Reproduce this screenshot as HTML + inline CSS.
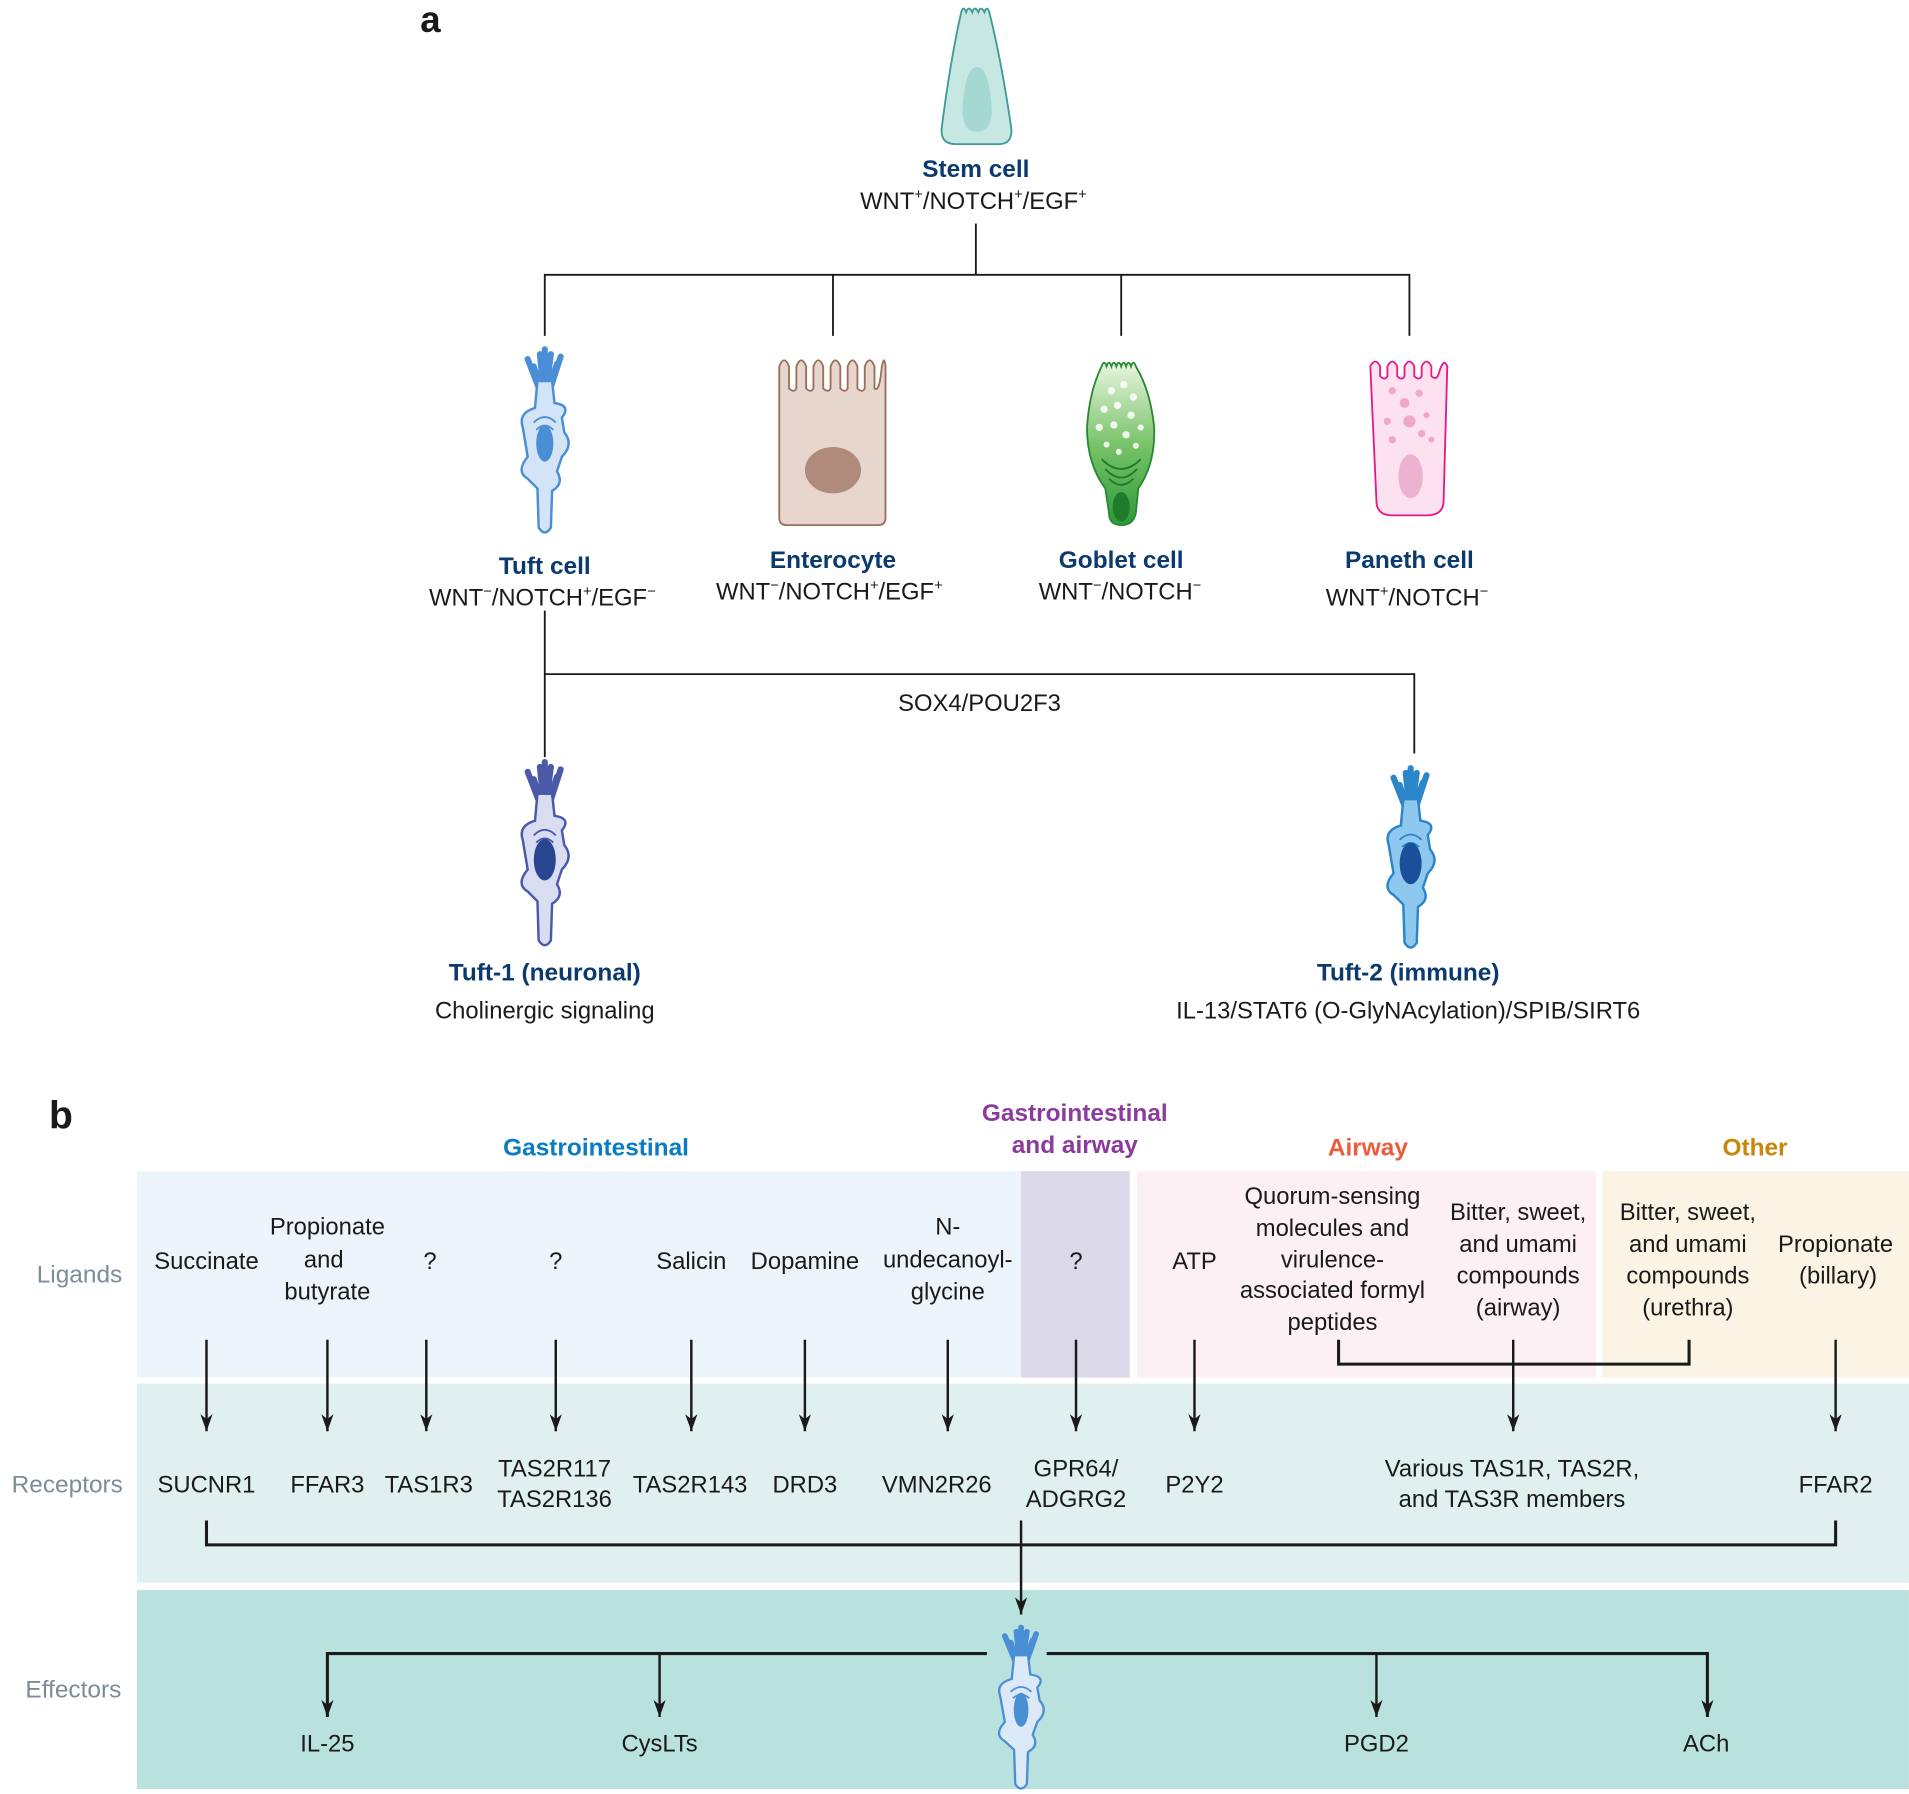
<!DOCTYPE html>
<html><head><meta charset="utf-8"><style>
html,body{margin:0;padding:0;background:#fff}
svg{display:block}
text{font-family:"Liberation Sans",sans-serif;font-size:19.5px;fill:#1a1a1a}
.t{font-weight:bold;fill:#0b3a6e;font-size:20px}
.h{font-weight:bold;font-size:20px}
.row{fill:#7d8c9b;font-size:20px}
</style></head><body>
<svg width="1909" height="1794" viewBox="0 0 1563 1469" xmlns="http://www.w3.org/2000/svg">
<defs>
<marker id="ar" viewBox="0 0 14 10" refX="14" refY="5" markerWidth="14" markerHeight="10" markerUnits="userSpaceOnUse" orient="auto"><path d="M0,0 L14,5 L0,10 L4,5 Z" fill="#1a1a1a"/></marker>
<g id="tuft">
<path d="M-3,38 L-9,18 M-1,38 L-4,8 M0,38 L0,4 M1,38 L5,8 M3,38 L10,16 M-4,38 L-14,12 M4,38 L13,10" stroke="currentColor" stroke-width="5" stroke-linecap="round" fill="none"/>
<path d="M-6,30 L-8,52 Q-22,56 -18,68 L-14,92 Q-24,104 -14,110 L-6,118 L-5,150 Q0,158 5,150 L6,120 Q16,114 10,104 L14,92 Q24,82 16,72 L14,60 Q22,50 8,48 L6,30 Z" fill="inherit" stroke="currentColor" stroke-width="2"/>
<path d="M-9,64 Q0,55 9,64 M-7,70 Q0,63 7,70" stroke="currentColor" stroke-width="1.5" fill="none"/>
</g>
</defs>

<text x="344" y="26" style="font-weight:bold;font-size:30px">a</text>

<path d="M787,10 Q789,4 791,10 Q793,4 796,10 Q798,4 801,10 Q803,4 806,10 Q808,4 810,10 Q820,50 828,105 Q829,118 818,118 L782,118 Q770,118 771,105 Q778,50 787,10 Z" fill="#c6e7e2" stroke="#3d9a94" stroke-width="1.5"/>
<path d="M800,55 Q790,55 788,90 Q788,108 800,108 Q812,108 812,90 Q810,55 800,55 Z" fill="#a4d8d0"/>
<text class="t" x="799" y="145" text-anchor="middle">Stem cell</text>
<text x="797" y="171" text-anchor="middle">WNT<tspan font-size="12" dy="-8">+</tspan><tspan dy="8">/NOTCH</tspan><tspan font-size="12" dy="-8">+</tspan><tspan dy="8">/EGF</tspan><tspan font-size="12" dy="-8">+</tspan></text>

<g stroke="#1a1a1a" stroke-width="1.5" fill="none">
<path d="M799,183 V225 M446,275 V225 H1154 V275 M682,225 V275 M918,225 V275"/>
<path d="M446,500 V620 M446,552 H1158 V617"/>
</g>

<g transform="translate(446,282)" color="#4a8fd6" fill="#d3e4f7"><use href="#tuft"/></g>
<ellipse cx="446" cy="363" rx="7" ry="15" fill="#4a8fd6"/>
<path d="M638,330 V300 Q642,290 646,300 V318 Q650,322 652,318 V300 Q656,290 660,300 V318 Q664,322 666,318 V300 Q670,290 674,300 V318 Q678,322 680,318 V300 Q684,290 688,300 V318 Q692,322 694,318 V300 Q698,290 702,300 V318 Q706,322 708,318 V300 Q712,290 716,300 V318 Q720,322 722,300 Q724,290 725,300 V424 Q725,430 719,430 L644,430 Q638,430 638,424 Z" fill="#e7d6cd" stroke="#9b6f5a" stroke-width="1.5"/>
<ellipse cx="682" cy="385" rx="23" ry="19" fill="#b08b7b"/>
<defs><linearGradient id="gg" x1="0" y1="0" x2="0" y2="1"><stop offset="0" stop-color="#e8f5e0"/><stop offset="0.5" stop-color="#7ac36a"/><stop offset="1" stop-color="#2c9a3a"/></linearGradient></defs>
<path d="M902,300 Q904,294 906,300 Q908,294 910,300 Q912,294 914,300 Q916,294 918,300 Q920,294 922,300 Q924,294 926,300 Q928,294 930,300 Q942,320 945,350 Q946,380 932,400 L930,420 Q928,430 918,430 Q908,430 908,420 L905,400 Q890,380 890,350 Q892,320 902,300 Z" fill="url(#gg)" stroke="#278a33" stroke-width="1.5"/>
<g fill="#fff" opacity="0.85"><circle cx="910" cy="320" r="3"/><circle cx="920" cy="315" r="3"/><circle cx="928" cy="325" r="3"/><circle cx="904" cy="335" r="3"/><circle cx="915" cy="332" r="3"/><circle cx="926" cy="340" r="3"/><circle cx="934" cy="350" r="2.5"/><circle cx="900" cy="350" r="3"/><circle cx="912" cy="348" r="3"/><circle cx="922" cy="356" r="3"/><circle cx="906" cy="364" r="2.5"/><circle cx="930" cy="365" r="2.5"/><circle cx="916" cy="370" r="2.5"/></g>
<g stroke="#1f7a2b" fill="none" stroke-width="1.5"><path d="M902,376 Q918,392 934,376 M905,384 Q918,398 931,384 M908,392 Q918,402 928,392"/></g>
<ellipse cx="918" cy="415" rx="7" ry="12" fill="#1f7a2b"/>
<path d="M1122,300 Q1126,292 1130,300 V308 Q1134,312 1136,308 V300 Q1140,292 1144,300 V308 Q1148,312 1150,308 V300 Q1154,292 1158,300 V308 Q1162,312 1164,308 V300 Q1168,292 1172,300 V308 Q1176,312 1178,306 Q1182,292 1185,300 L1182,410 Q1182,422 1168,422 L1140,422 Q1127,422 1127,410 Z" fill="#fbe2ee" stroke="#e6188c" stroke-width="1.5"/>
<g fill="#f0a8c8"><circle cx="1140" cy="320" r="3"/><circle cx="1150" cy="330" r="4"/><circle cx="1162" cy="322" r="3"/><circle cx="1136" cy="345" r="3"/><circle cx="1154" cy="345" r="5"/><circle cx="1168" cy="340" r="2.5"/><circle cx="1164" cy="355" r="3"/><circle cx="1140" cy="360" r="3"/><circle cx="1172" cy="360" r="2.5"/></g>
<ellipse cx="1155" cy="390" rx="10" ry="18" fill="#ebb3d0"/>

<text class="t" x="446" y="470" text-anchor="middle">Tuft cell</text>
<text x="444" y="496" text-anchor="middle">WNT<tspan font-size="12" dy="-8">−</tspan><tspan dy="8">/NOTCH</tspan><tspan font-size="12" dy="-8">+</tspan><tspan dy="8">/EGF</tspan><tspan font-size="12" dy="-8">−</tspan></text>
<text class="t" x="682" y="465" text-anchor="middle">Enterocyte</text>
<text x="679" y="491" text-anchor="middle">WNT<tspan font-size="12" dy="-8">−</tspan><tspan dy="8">/NOTCH</tspan><tspan font-size="12" dy="-8">+</tspan><tspan dy="8">/EGF</tspan><tspan font-size="12" dy="-8">+</tspan></text>
<text class="t" x="918" y="465" text-anchor="middle">Goblet cell</text>
<text x="917" y="491" text-anchor="middle">WNT<tspan font-size="12" dy="-8">−</tspan><tspan dy="8">/NOTCH</tspan><tspan font-size="12" dy="-8">−</tspan></text>
<text class="t" x="1154" y="465" text-anchor="middle">Paneth cell</text>
<text x="1152" y="496" text-anchor="middle">WNT<tspan font-size="12" dy="-8">+</tspan><tspan dy="8">/NOTCH</tspan><tspan font-size="12" dy="-8">−</tspan></text>

<text x="802" y="582" text-anchor="middle">SOX4/POU2F3</text>

<g transform="translate(446,620)" color="#4a5aa8" fill="#d9ddf1"><use href="#tuft"/></g>
<ellipse cx="446" cy="704" rx="9" ry="17" fill="#2a4590"/>
<g transform="translate(1155,625) scale(1,0.98)" color="#2b86c9" fill="#8ec8ef"><use href="#tuft"/></g>
<ellipse cx="1155" cy="707" rx="9" ry="17" fill="#1a4f9a"/>

<text class="t" x="446" y="803" text-anchor="middle">Tuft-1 (neuronal)</text>
<text x="446" y="834" text-anchor="middle">Cholinergic  signaling</text>
<text class="t" x="1153" y="803" text-anchor="middle">Tuft-2 (immune)</text>
<text x="1153" y="834" text-anchor="middle">IL-13/STAT6 (O-GlyNAcylation)/SPIB/SIRT6</text>

<text x="40" y="924" style="font-weight:bold;font-size:32px">b</text>
<text class="h" x="488" y="946" text-anchor="middle" style="fill:#0a7cc1">Gastrointestinal</text>
<text class="h" x="880" y="918" text-anchor="middle" style="fill:#8b3a9e">Gastrointestinal</text>
<text class="h" x="880" y="944" text-anchor="middle" style="fill:#8b3a9e">and airway</text>
<text class="h" x="1120" y="946" text-anchor="middle" style="fill:#f05a3c">Airway</text>
<text class="h" x="1437" y="946" text-anchor="middle" style="fill:#c8860a">Other</text>

<rect x="112" y="959" width="724" height="169" fill="#eef4fb"/>
<rect x="836" y="959" width="89" height="169" fill="#dcd9ea"/>
<rect x="931" y="959" width="376" height="169" fill="#fcf0f4"/>
<rect x="1312" y="959" width="251" height="169" fill="#fbf3e3"/>
<rect x="112" y="1133" width="1451" height="163" fill="#dff0ef"/>
<rect x="112" y="1302" width="1451" height="163" fill="#b9e2de"/>

<text class="row" x="65" y="1050" text-anchor="middle">Ligands</text>
<text class="row" x="55" y="1222" text-anchor="middle">Receptors</text>
<text class="row" x="60" y="1390" text-anchor="middle">Effectors</text>

<g text-anchor="middle">
<text x="169" y="1039">Succinate</text>
<text x="268" y="1011">Propionate</text><text x="265" y="1038">and</text><text x="268" y="1064">butyrate</text>
<text x="352" y="1039">?</text>
<text x="455" y="1039">?</text>
<text x="566" y="1039">Salicin</text>
<text x="659" y="1039">Dopamine</text>
<text x="776" y="1011">N-</text><text x="776" y="1038">undecanoyl-</text><text x="776" y="1064">glycine</text>
<text x="881" y="1039">?</text>
<text x="978" y="1039">ATP</text>
<text x="1091" y="986">Quorum-sensing</text><text x="1091" y="1012">molecules and</text><text x="1091" y="1038">virulence-</text><text x="1091" y="1063">associated formyl</text><text x="1091" y="1089">peptides</text>
<text x="1243" y="999">Bitter, sweet,</text><text x="1243" y="1025">and umami</text><text x="1243" y="1051">compounds</text><text x="1243" y="1077">(airway)</text>
<text x="1382" y="999">Bitter, sweet,</text><text x="1382" y="1025">and umami</text><text x="1382" y="1051">compounds</text><text x="1382" y="1077">(urethra)</text>
<text x="1503" y="1025">Propionate</text><text x="1505" y="1051">(billary)</text>

<text x="169" y="1222">SUCNR1</text>
<text x="268" y="1222">FFAR3</text>
<text x="351" y="1222">TAS1R3</text>
<text x="454" y="1209">TAS2R117</text><text x="454" y="1234">TAS2R136</text>
<text x="565" y="1222">TAS2R143</text>
<text x="659" y="1222">DRD3</text>
<text x="767" y="1222">VMN2R26</text>
<text x="881" y="1209">GPR64/</text><text x="881" y="1234">ADGRG2</text>
<text x="978" y="1222">P2Y2</text>
<text x="1238" y="1209">Various TAS1R, TAS2R,</text><text x="1238" y="1234">and TAS3R members</text>
<text x="1503" y="1222">FFAR2</text>

<text x="268" y="1434">IL-25</text>
<text x="540" y="1434">CysLTs</text>
<text x="1127" y="1434">PGD2</text>
<text x="1397" y="1434">ACh</text>
</g>

<g stroke="#1a1a1a" stroke-width="2" fill="none">
<path d="M169,1097 V1172" marker-end="url(#ar)"/>
<path d="M268,1097 V1172" marker-end="url(#ar)"/>
<path d="M349,1097 V1172" marker-end="url(#ar)"/>
<path d="M455,1097 V1172" marker-end="url(#ar)"/>
<path d="M566,1097 V1172" marker-end="url(#ar)"/>
<path d="M659,1097 V1172" marker-end="url(#ar)"/>
<path d="M776,1097 V1172" marker-end="url(#ar)"/>
<path d="M881,1097 V1172" marker-end="url(#ar)"/>
<path d="M978,1097 V1172" marker-end="url(#ar)"/>
<path d="M1239,1097 V1172" marker-end="url(#ar)"/>
<path d="M1503,1097 V1172" marker-end="url(#ar)"/>
<path d="M1096,1097 V1117 H1383 V1097" stroke-width="2.5"/>
<path d="M169,1245 V1265 H1503 V1245" stroke-width="2.5"/>
<path d="M836,1245 V1322" marker-end="url(#ar)"/>
<path d="M808,1354 H268 V1406" stroke-width="2.5" marker-end="url(#ar)"/>
<path d="M540,1354 V1406" marker-end="url(#ar)"/>
<path d="M857,1354 H1398 V1406" stroke-width="2.5" marker-end="url(#ar)"/>
<path d="M1127,1354 V1406" marker-end="url(#ar)"/>
</g>

<g transform="translate(836,1329) scale(0.95,0.88)" color="#4a8fd6" fill="#dbe9f8"><use href="#tuft"/></g>
<ellipse cx="836" cy="1400" rx="6" ry="14" fill="#4a8fd6"/>
</svg>
</body></html>
